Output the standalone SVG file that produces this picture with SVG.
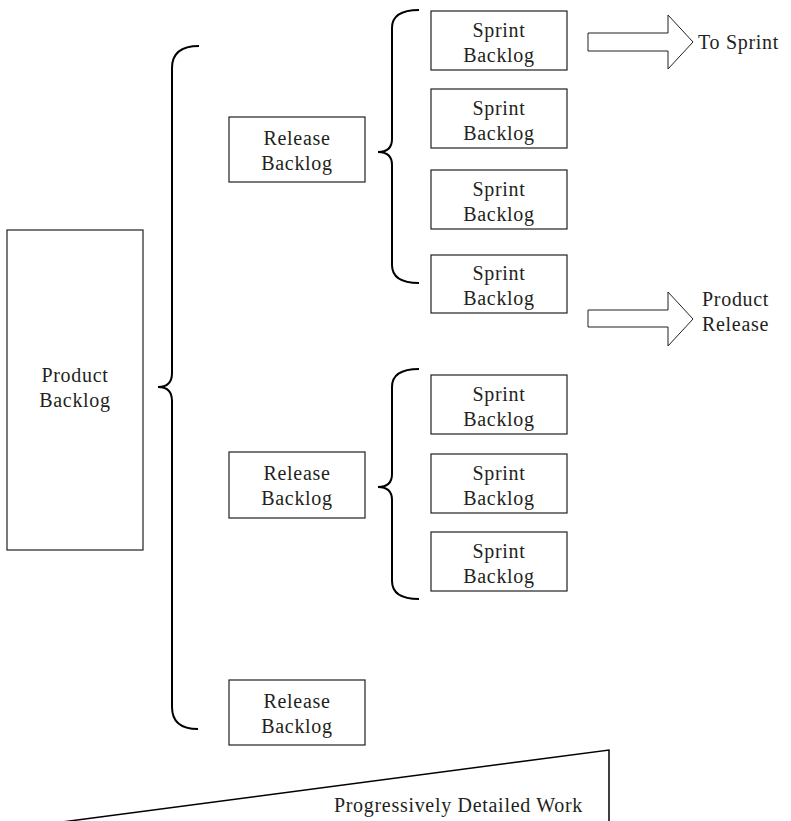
<svg xmlns="http://www.w3.org/2000/svg" width="791" height="821" viewBox="0 0 791 821">
  <style>
    .box { fill: #ffffff; stroke: #231f20; stroke-width: 1.2; }
    .brace { fill: none; stroke: #000000; stroke-width: 2; stroke-linecap: butt; }
    .arrow { fill: #ffffff; stroke: #231f20; stroke-width: 1; }
    .wedge { fill: none; stroke: #000000; stroke-width: 1.5; }
    text { font-family: "Liberation Serif", "Times New Roman", serif; font-size: 20px; letter-spacing: 0.7px; fill: #231f20; }
    .c { text-anchor: middle; }
  </style>
  <rect width="791" height="821" fill="#ffffff"/>

  <!-- Product backlog -->
  <g id="product-backlog">
    <rect class="box" x="7" y="230" width="136" height="320"/>
    <text class="c" x="75" y="382">Product</text>
    <text class="c" x="75" y="407">Backlog</text>
  </g>

  <!-- Release backlogs -->
  <g id="release-backlog-1">
    <rect class="box" x="229" y="117" width="136" height="65"/>
    <text class="c" x="297" y="145">Release</text>
    <text class="c" x="297" y="170">Backlog</text>
  </g>
  <g id="release-backlog-2">
    <rect class="box" x="229" y="452" width="136" height="66"/>
    <text class="c" x="297" y="480">Release</text>
    <text class="c" x="297" y="505">Backlog</text>
  </g>
  <g id="release-backlog-3">
    <rect class="box" x="229" y="680" width="136" height="65"/>
    <text class="c" x="297" y="708">Release</text>
    <text class="c" x="297" y="733">Backlog</text>
  </g>

  <!-- Sprint backlogs, first release -->
  <g id="sprint-backlog-1">
    <rect class="box" x="431" y="11" width="136" height="59"/>
    <text class="c" x="499" y="37">Sprint</text>
    <text class="c" x="499" y="62">Backlog</text>
  </g>
  <g id="sprint-backlog-2">
    <rect class="box" x="431" y="89" width="136" height="59"/>
    <text class="c" x="499" y="115">Sprint</text>
    <text class="c" x="499" y="140">Backlog</text>
  </g>
  <g id="sprint-backlog-3">
    <rect class="box" x="431" y="170" width="136" height="59"/>
    <text class="c" x="499" y="196">Sprint</text>
    <text class="c" x="499" y="221">Backlog</text>
  </g>
  <g id="sprint-backlog-4">
    <rect class="box" x="431" y="255" width="136" height="58"/>
    <text class="c" x="499" y="280">Sprint</text>
    <text class="c" x="499" y="305">Backlog</text>
  </g>

  <!-- Sprint backlogs, second release -->
  <g id="sprint-backlog-5">
    <rect class="box" x="431" y="375" width="136" height="59"/>
    <text class="c" x="499" y="401">Sprint</text>
    <text class="c" x="499" y="426">Backlog</text>
  </g>
  <g id="sprint-backlog-6">
    <rect class="box" x="431" y="454" width="136" height="59"/>
    <text class="c" x="499" y="480">Sprint</text>
    <text class="c" x="499" y="505">Backlog</text>
  </g>
  <g id="sprint-backlog-7">
    <rect class="box" x="431" y="532" width="136" height="59"/>
    <text class="c" x="499" y="558">Sprint</text>
    <text class="c" x="499" y="583">Backlog</text>
  </g>

  <!-- Braces and block arrows -->
  <g id="connectors">
    <path class="brace" d="M199,46 Q172,46 172,68 V373 Q172,387 158,387 Q172,387 172,401 V707 Q172,729 198,729"/>
    <path class="brace" d="M419,10 Q392,10 392,28 V139 Q392,152 378,152 Q392,152 392,165 V265 Q392,283 419,283"/>
    <path class="brace" d="M419,369 Q392,369 392,387 V474 Q392,487 378,487 Q392,487 392,500 V581 Q392,599 419,599"/>
    <polygon class="arrow" points="588,33 668,33 668,15 693,42 668,69 668,51 588,51"/>
    <polygon class="arrow" points="588,310 668,310 668,292 693,319 668,346 668,327 588,327"/>
  </g>

  <g id="to-sprint">
    <text x="698" y="49">To Sprint</text>
  </g>
  <g id="product-release">
    <text x="702" y="306">Product</text>
    <text x="702" y="331">Release</text>
  </g>

  <!-- Detail wedge -->
  <g id="detail-wedge">
    <path class="wedge" d="M62,822 L609,750 V822"/>
    <text x="583" y="812" text-anchor="end">Progressively Detailed Work</text>
  </g>
</svg>
